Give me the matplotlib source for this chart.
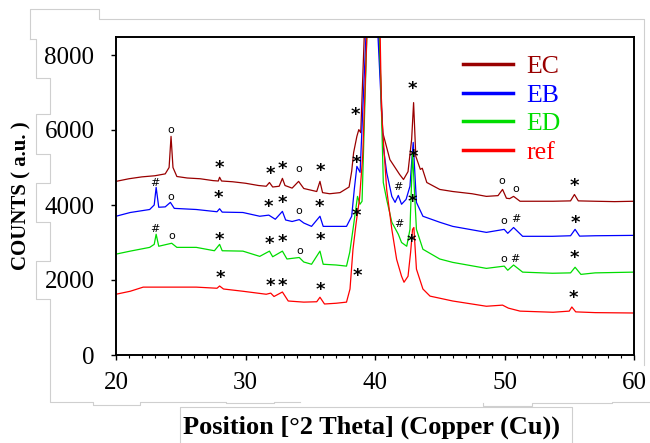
import matplotlib
matplotlib.use("Agg")
import matplotlib.pyplot as plt
from matplotlib.lines import Line2D
from matplotlib.ticker import MultipleLocator

# ---------------------------------------------------------------------------
# DATA
# ---------------------------------------------------------------------------
ec_x = [20.0, 21.0, 22.0, 23.0, 23.8, 24.1, 24.25, 24.4, 24.7, 25.5, 26.5, 27.5,
        27.9, 28.0, 28.15, 29.0, 30.0, 31.0, 31.6, 31.85, 32.1, 32.6, 32.85, 33.05,
        33.6, 34.1, 34.5, 35.0, 35.5, 35.75, 35.95, 36.5, 37.3, 38.0, 38.2, 38.35,
        38.6, 38.75, 38.9, 39.17, 39.75, 40.3, 40.6, 41.15, 41.9, 42.2, 42.55, 42.83,
        42.98, 43.15, 43.5, 43.65, 44.0, 45.0, 46.0, 47.5, 48.6, 49.5, 49.85, 50.15,
        50.4, 50.7, 51.2, 52.5, 53.75, 55.1, 55.4, 55.7, 57.0, 58.5, 60.0]
ec_y = [4630, 4700, 4750, 4780, 4830, 5000, 5830, 5000, 4760, 4720, 4700, 4650,
        4640, 4740, 4640, 4620, 4580, 4520, 4500, 4600, 4480, 4500, 4710, 4520,
        4450, 4630, 4440, 4400, 4360, 4630, 4330, 4300, 4330, 4480, 4900, 5400,
        5830, 6010, 5930, 8500, 16000, 8500, 5930, 5210, 4815, 4680, 4890, 5750,
        6730, 5300, 4950, 4980, 4600, 4415, 4360, 4300, 4230, 4250, 4415, 4180,
        4170, 4230, 4100, 4100, 4100, 4110, 4280, 4110, 4100, 4090, 4100]

eb_x = [20.0, 21.1, 22.6, 22.95, 23.1, 23.3, 23.8, 24.2, 24.5, 26.2, 27.8, 28.0,
        28.2, 29.8, 31.1, 31.8, 32.3, 32.85, 33.1, 33.6, 34.15, 34.5, 35.1, 35.75,
        36.0, 37.0, 37.8, 38.2, 38.4, 38.6, 38.85, 39.3, 39.75, 40.23, 40.64, 40.9,
        41.3, 41.55, 41.8, 42.05, 42.4, 42.7, 42.83, 42.95, 43.2, 43.7, 45.0, 46.0,
        48.6, 49.98, 50.25, 50.7, 51.4, 53.7, 55.1, 55.45, 55.8, 57.0, 60.0]
eb_y = [3700, 3800, 3880, 4000, 4470, 3940, 3950, 4070, 3910, 3880, 3820, 3900,
        3810, 3800, 3700, 3730, 3620, 3830, 3600, 3560, 3610, 3520, 3430, 3700,
        3430, 3430, 3430, 3700, 4415, 5030, 4870, 8500, 16000, 8500, 5560, 4870,
        4230, 4070, 4255, 4020, 4150, 4500, 5130, 5670, 4070, 3700, 3540, 3430,
        3270, 3350, 3245, 3400, 3165, 3165, 3180, 3350, 3170, 3180, 3190]

ed_x = [20.0, 21.1, 22.6, 22.95, 23.1, 23.3, 24.3, 24.7, 26.2, 27.6, 28.0, 28.2,
        29.8, 31.1, 31.85, 32.1, 32.85, 33.2, 34.15, 34.5, 35.1, 35.75, 36.0, 37.0,
        37.8, 38.05, 38.3, 38.65, 38.84, 39.0, 39.37, 39.75, 40.35, 40.64, 40.9, 41.3,
        41.8, 42.05, 42.45, 42.7, 42.9, 43.1, 43.2, 43.7, 45.0, 46.0, 48.6, 49.98,
        50.25, 50.7, 51.4, 53.7, 55.1, 55.45, 55.9, 57.0, 60.0]
ed_y = [2690, 2770, 2870, 2950, 3220, 2900, 2980, 2870, 2870, 2780, 2950, 2780,
        2770, 2630, 2770, 2620, 2770, 2560, 2600, 2480, 2420, 2770, 2420, 2400,
        2370, 2740, 3350, 4230, 4020, 4100, 8500, 16000, 8500, 4600, 4150, 3540,
        3220, 3000, 2900, 3350, 5400, 4000, 3350, 2820, 2560, 2470, 2310, 2370,
        2260, 2400, 2210, 2180, 2190, 2340, 2150, 2190, 2210]

ref_x = [20.0, 21.1, 22.1, 24.2, 26.2, 27.8, 28.0, 28.3, 29.8, 31.6, 31.95, 32.2,
         32.85, 33.3, 34.5, 35.5, 35.75, 36.1, 37.0, 37.8, 38.07, 38.3, 38.55, 38.8,
         39.05, 39.37, 39.85, 40.4, 40.5, 40.64, 40.9, 41.3, 41.67, 42.05, 42.24, 42.55,
         42.75, 42.9, 43.0, 43.2, 43.7, 44.25, 46.0, 48.6, 49.85, 50.3, 51.2, 53.75,
         55.0, 55.2, 55.5, 57.0, 60.0]
ref_y = [1620, 1700, 1810, 1810, 1810, 1780, 1840, 1760, 1700, 1620, 1650, 1560,
         1680, 1440, 1410, 1420, 1540, 1360, 1380, 1410, 1760, 2820, 3540, 4150,
         5300, 8500, 16000, 8500, 6540, 5750, 4415, 3350, 2550, 2100, 1940, 2100,
         2740, 3350, 3400, 2290, 1760, 1570, 1440, 1300, 1330, 1250, 1170, 1140,
         1170, 1280, 1150, 1130, 1120]

# peak labels: position (2theta, counts) and symbol
ec_mx = [24.25, 28.0, 31.9, 32.87, 34.13, 35.8, 38.5, 42.9, 49.78, 50.9, 55.4]
ec_my = [6010, 5000, 4840, 4970, 4950, 4900, 6410, 7100, 4630, 4440, 4520]
ec_ms = ['o', '*', '*', '*', 'o', '*', '*', '*', 'o', 'o', '*']

eb_mx = [23.0, 24.25, 27.9, 31.75, 32.87, 34.14, 35.7, 38.53, 41.78, 43.0, 49.98, 50.86, 55.45]
eb_my = [4600, 4200, 4200, 3950, 4050, 3840, 3950, 5120, 4470, 5270, 3570, 3620, 3530]
eb_ms = ['#', 'o', '*', '*', '*', 'o', '*', '*', '#', '*', 'o', '#', '*']

ed_mx = [22.97, 24.3, 27.95, 31.85, 32.85, 34.17, 35.78, 38.57, 41.86, 42.9, 49.98, 50.8, 55.4]
ed_my = [3350, 3170, 3060, 2970, 3010, 2760, 3060, 3710, 3490, 4080, 2570, 2550, 2580]
ed_ms = ['#', 'o', '*', '*', '*', 'o', '*', '*', '#', '*', 'o', '#', '*']

ref_mx = [28.03, 31.92, 32.87, 35.78, 38.64, 42.83, 55.3]
ref_my = [2050, 1840, 1840, 1730, 2110, 3010, 1510]
ref_ms = ['*', '*', '*', '*', '*', '*', '*']

labels = ['EC', 'EB', 'ED', 'ref']
colors = ['#990000', '#0000ff', '#00dd00', '#ff0000']

# ---------------------------------------------------------------------------
# FIGURE
# ---------------------------------------------------------------------------
W, H = 650, 443
fig = plt.figure(figsize=(6.5, 4.43), dpi=100)
ax = fig.add_axes([116 / W, 1 - 355 / H, (634 - 116) / W, (355 - 37) / H])

series = [(ec_x, ec_y), (eb_x, eb_y), (ed_x, ed_y), (ref_x, ref_y)]
for (xs, ys), lab, col in zip(series, labels, colors):
    ax.plot(xs, ys, color=col, lw=0.9, label=lab)

for mx, my, ms in [(ec_mx, ec_my, ec_ms), (eb_mx, eb_my, eb_ms),
                   (ed_mx, ed_my, ed_ms), (ref_mx, ref_my, ref_ms)]:
    for x, y, s in zip(mx, my, ms):
        if s == '*':
            ax.text(x, y, s, ha='center', va='center', fontsize=13,
                    fontweight='bold', family='DejaVu Sans')
        else:
            ax.text(x, y, s, ha='center', va='center', fontsize=8,
                    family='DejaVu Sans')

ax.set_xlim(20, 60)
ax.set_ylim(0, 8480)
ax.xaxis.set_major_locator(MultipleLocator(10))
ax.xaxis.set_minor_locator(MultipleLocator(1))
ax.yaxis.set_major_locator(MultipleLocator(2000))
ax.tick_params(axis='both', which='major', direction='out', length=3.5, width=1)
ax.tick_params(axis='x', which='minor', direction='out', length=2.5, width=0.8)
ax.tick_params(axis='x', which='major', pad=9)
ax.tick_params(axis='y', which='major', pad=12)
for lab in ax.get_xticklabels() + ax.get_yticklabels():
    lab.set_family('Liberation Serif')
    lab.set_fontsize(18)
for sp in ax.spines.values():
    sp.set_linewidth(1.4)

leg = ax.legend(loc='upper left', bbox_to_anchor=(0.67, 0.942), frameon=False,
                prop={'family': 'Liberation Serif', 'size': 18.5},
                handlelength=1.95, handletextpad=0.5, labelspacing=0.21,
                borderpad=0, borderaxespad=0, labelcolor='linecolor')
for h in leg.get_lines():
    h.set_linewidth(2.5)

fig.text(21 / W, 1 - 196 / H, 'COUNTS ( a.u. )', rotation=90, ha='center',
         va='center', family='Liberation Serif', fontweight='bold', fontsize=15)
fig.text(371.5 / W, 1 - 427 / H, 'Position [°2 Theta] (Copper (Cu))', ha='center',
         va='center', family='Liberation Serif', fontweight='bold', fontsize=19)

# faint grey outlines left over in the source image
grey_paths = [
    [(30, 39), (30, 9), (99, 9), (99, 19), (644, 19), (644, 365)],
    [(30, 39), (36, 39), (36, 78), (50, 78), (50, 114), (36, 114), (36, 154),
     (50, 154), (50, 183), (36, 183), (36, 222), (50, 222), (50, 261), (36, 261),
     (36, 299), (50, 299), (50, 402), (93, 402), (93, 405), (140, 405), (140, 402),
     (226, 402), (226, 403), (274, 403), (274, 402), (300, 402)],
    [(180, 443), (180, 407), (572, 407), (572, 443)],
    [(483, 403), (483, 406), (532, 406), (532, 403), (612, 403), (612, 402), (650, 402)],
]
for path in grey_paths:
    xs = [p[0] / W for p in path]
    ys = [1 - p[1] / H for p in path]
    fig.add_artist(Line2D(xs, ys, transform=fig.transFigure, color='#cfcfcf', lw=0.8))

fig.savefig('out.png', dpi=100)
